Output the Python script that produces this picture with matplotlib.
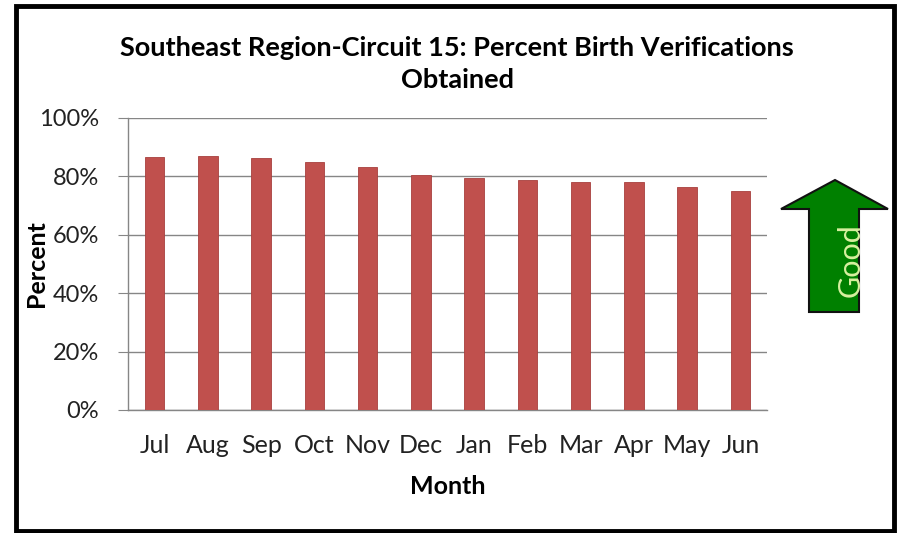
import matplotlib
matplotlib.use("Agg")
import matplotlib.pyplot as plt
from matplotlib.patches import Polygon, Rectangle
import numpy as np

plt.rcParams['font.family'] = ['Lato', 'DejaVu Sans']

months = ['Jul', 'Aug', 'Sep', 'Oct', 'Nov', 'Dec', 'Jan', 'Feb', 'Mar', 'Apr', 'May', 'Jun']
pct_obtained = [86.7, 87.0, 86.2, 85.0, 83.1, 80.5, 79.3, 78.8, 78.2, 78.2, 76.5, 75.0]
y_ticks = [0, 20, 40, 60, 80, 100]

W, H = 901, 533
fig = plt.figure(figsize=(W / 100, H / 100), dpi=100)

def px(x, y):
    # pixel position (from top-left) -> figure fraction
    return (x / W, 1 - y / H)

ax = fig.add_axes([128 / W, 1 - 410 / H, (767 - 128) / W, (410 - 118) / H])

x = np.arange(len(months))
ax.bar(x, pct_obtained, width=0.37, color='#C0504D', edgecolor='#A8403E', linewidth=0.6, zorder=3)

ax.set_xlim(-0.5, len(months) - 0.5)
ax.set_ylim(0, 100)
ax.set_yticks(y_ticks)
ax.set_yticklabels([f"{t}%" for t in y_ticks], fontsize=17, color='#222222')
ax.set_xticks(x)
ax.set_xticklabels(months, fontsize=18, color='#222222')
ax.tick_params(axis='x', length=0, pad=17)
ax.tick_params(axis='y', length=7, color='#868686', pad=14)
ax.grid(True, axis='y', color='#868686', linewidth=1.0, zorder=0)
for side in ['top', 'right']:
    ax.spines[side].set_visible(False)
for side in ['left', 'bottom']:
    ax.spines[side].set_color('#868686')
    ax.spines[side].set_linewidth(1.0)

ax.set_xlabel('Month', fontsize=18, fontweight='bold')
ax.set_ylabel('Percent', fontsize=18, fontweight='bold')
ax.xaxis.set_label_coords(0.5, -(487 - 410) / 292, transform=ax.transAxes)
ax.yaxis.set_label_coords(-(128 - 37) / 639, 0.5, transform=ax.transAxes)
ax.xaxis.label.set_va('center')
ax.yaxis.label.set_va('center')

fig.text(457 / W, 1 - 64 / H,
         'Southeast Region-Circuit 15: Percent Birth Verifications\nObtained',
         ha='center', va='center', fontsize=19.5, fontweight='bold',
         linespacing=1.4)

# "Good" direction arrow on the right
arrow_pts = [(835, 180), (888, 209), (859, 209), (859, 312),
             (809, 312), (809, 209), (781, 209)]
fig.patches.append(Polygon([px(*p) for p in arrow_pts], closed=True,
                           transform=fig.transFigure, facecolor='#008000',
                           edgecolor='#111111', linewidth=1.5))
fig.text(851 / W, 1 - 260 / H, 'Good', rotation=90, ha='center', va='center',
         fontsize=22, color='#D8F0A0')

# outer frame
x0, y0 = px(16, 531)
x1, y1 = px(894, 6)
fig.patches.append(Rectangle((x0, y0), x1 - x0, y1 - y0, transform=fig.transFigure,
                             fill=False, edgecolor='black', linewidth=3.5))

fig.savefig('out.png', dpi=100)
